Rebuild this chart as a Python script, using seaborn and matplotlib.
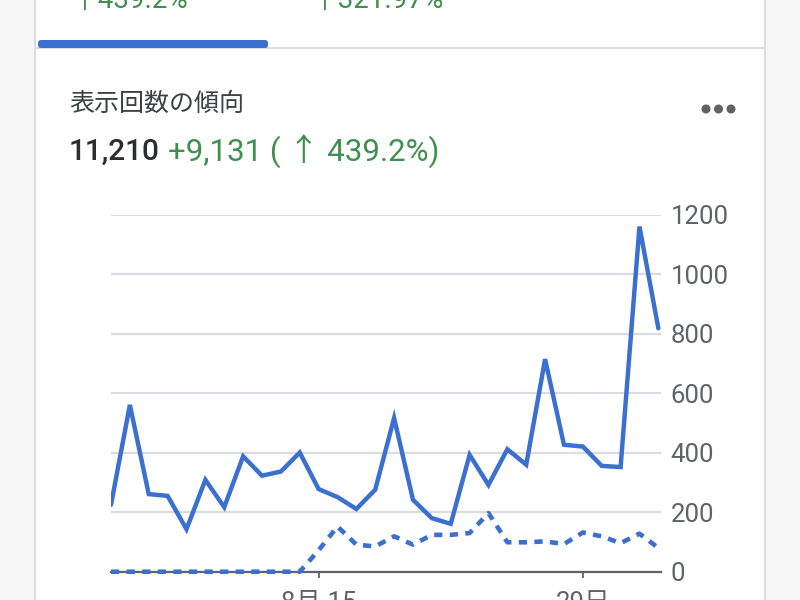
import pandas as pd
import seaborn as sns
import matplotlib.pyplot as plt
from matplotlib.patches import Rectangle, FancyBboxPatch, Ellipse

# daily impressions, current period vs previous period
dates = pd.date_range("2023-08-04", "2023-09-02", freq="D")
current = [225, 561, 261, 255, 143, 309, 217, 388, 323, 337,
           401, 278, 251, 211, 276, 517, 242, 180, 161, 393,
           292, 412, 360, 715, 427, 421, 356, 352, 1161, 819]
previous = [0, 0, 0, 0, 0, 0, 0, 0, 0, 0,
            0, 72, 152, 91, 85, 119, 91, 124, 124, 130,
            197, 99, 99, 102, 93, 132, 119, 96, 128, 80]
xtick_dates = ["2023-08-15", "2023-08-29"]
xtick_labels = ["8月 15", "29日"]
yticks = [0, 200, 400, 600, 800, 1000, 1200]

title = "表示回数の傾向"
total = "11,210"
change = "+9,131 ( ↑ 439.2%)"
top_tabs = ["↑439.2%", "↑321.97%"]

BLUE = "#3b6fd0"
GREEN = "#3f8f4f"
GRAY = "#5f6368"
GRID = "#dadce0"

sns.set_theme(style="white")
plt.rcParams["font.family"] = ["Roboto", "Noto Sans CJK JP", "DejaVu Sans"]

df = pd.DataFrame({"date": dates, "current": current, "previous": previous})

fig = plt.figure(figsize=(8, 6), dpi=100, facecolor="#f7f7f7")

# card background
fig.patches.append(Rectangle((36 / 800, 0), 728 / 800, 1, transform=fig.transFigure,
                             facecolor="white", edgecolor="none", zorder=-10))
for xpx in (35, 765):
    fig.add_artist(plt.Line2D([xpx / 800, xpx / 800], [0, 1], transform=fig.transFigure,
                              color=GRID, lw=1.5, zorder=-5))
# tab separator + selected tab indicator
fig.add_artist(plt.Line2D([35 / 800, 765 / 800], [1 - 48 / 600, 1 - 48 / 600],
                          transform=fig.transFigure, color=GRID, lw=1.5, zorder=-5))
fig.patches.append(FancyBboxPatch((38 / 800, 1 - 48 / 600), 230 / 800, 8 / 600,
                                  boxstyle="round,pad=0,rounding_size=0.004",
                                  transform=fig.transFigure, facecolor=BLUE,
                                  edgecolor="none", mutation_aspect=1.33, zorder=-4))
fig.text(71 / 800, 1 - 8 / 600, top_tabs[0], color=GREEN, fontsize=20, va="baseline")
fig.text(311 / 800, 1 - 8 / 600, top_tabs[1], color=GREEN, fontsize=20, va="baseline")

# header texts
fig.text(69 / 800, 1 - 104 / 600, title, color="#3c4043", fontsize=18, va="center")
fig.text(69 / 800, 1 - 152 / 600, total, color="#2b2d30", fontsize=21.5,
         va="center", fontweight="medium")
fig.text(168 / 800, 1 - 152 / 600, change, color=GREEN, fontsize=22.5, va="center")
for cx in (706, 718.5, 731):
    fig.patches.append(Ellipse((cx / 800, 1 - 109 / 600), 9 / 800, 9 / 600,
                               transform=fig.transFigure, facecolor=GRAY, edgecolor="none"))

# chart
ax = fig.add_axes([111 / 800, 1 - 571.7 / 600, 549.7 / 800, 356.7 / 600])
ax.set_zorder(5)
ax.set_facecolor("none")
sns.lineplot(data=df, x="date", y="current", ax=ax, color=BLUE, lw=3.2,
             solid_joinstyle="miter", zorder=4)
sns.lineplot(data=df, x="date", y="previous", ax=ax, color=BLUE, lw=3.3,
             linestyle=(0, (1.8, 1.6)), dash_capstyle="butt", zorder=3, clip_on=False)

ax.set_ylim(0, 1200)
ax.set_xlim(dates[0], dates[-1] + pd.Timedelta(hours=3))
ax.set_yticks(yticks)
ax.set_yticklabels([str(v) for v in yticks])
ax.yaxis.tick_right()
ax.tick_params(axis="y", length=0, pad=7, labelsize=18.5, labelcolor=GRAY)
ax.set_xticks(pd.to_datetime(xtick_dates))
ax.set_xticklabels(xtick_labels)
ax.tick_params(axis="x", bottom=True, length=4, width=1.3, color=GRAY, pad=10,
               labelsize=18.5, labelcolor=GRAY)
ax.grid(axis="y", color=GRID, lw=1.6)
ax.grid(axis="x", visible=False)
for side in ("top", "left", "right"):
    ax.spines[side].set_visible(False)
ax.spines["bottom"].set_color(GRAY)
ax.spines["bottom"].set_linewidth(1.6)
ax.spines["bottom"].set_zorder(2)
ax.set_xlabel("")
ax.set_ylabel("")

fig.savefig("out.png", dpi=100, facecolor=fig.get_facecolor())
